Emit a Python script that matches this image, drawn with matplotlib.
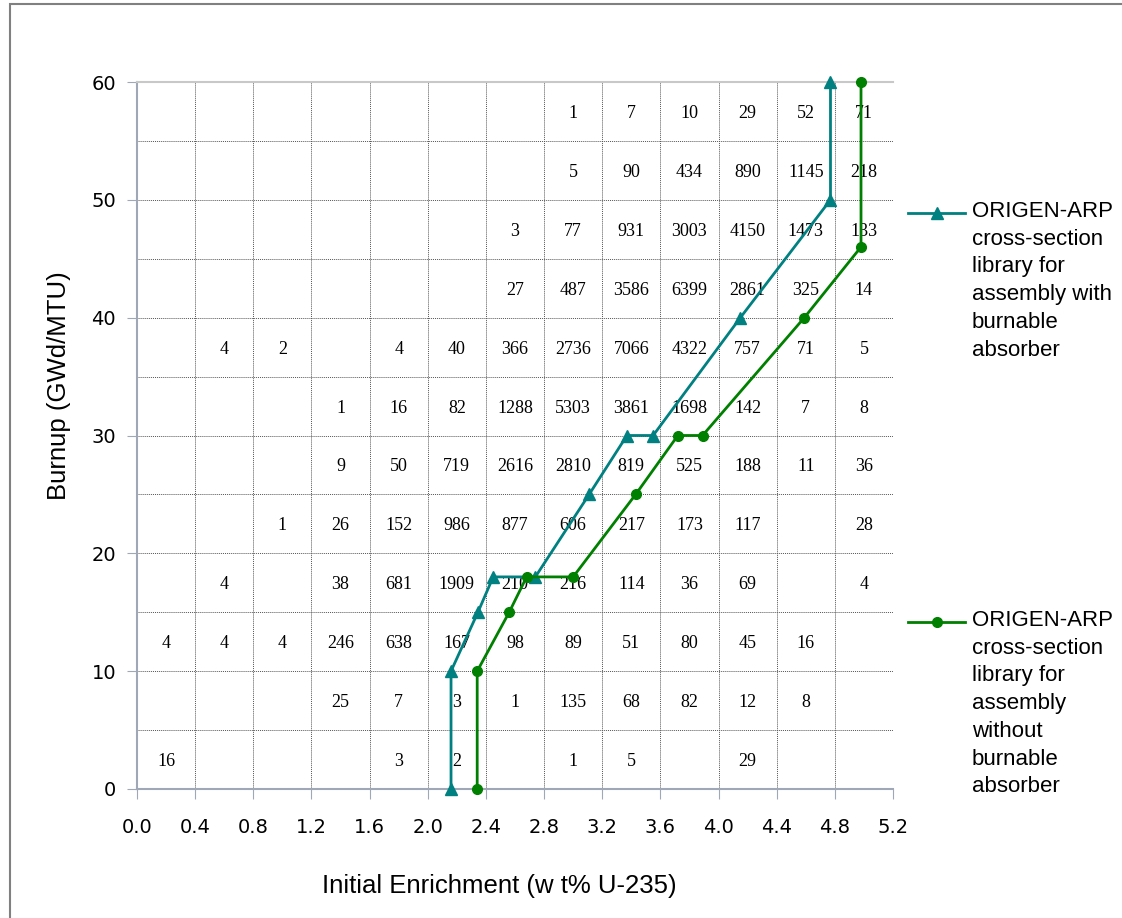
import matplotlib
matplotlib.use("Agg")
import matplotlib.pyplot as plt
from matplotlib.lines import Line2D
from matplotlib.patches import Rectangle

# cell centres of the count grid (enrichment bins of 0.4, burnup bins of 5)
enrich_centres = [0.2, 0.6, 1.0, 1.4, 1.8, 2.2, 2.6, 3.0, 3.4, 3.8, 4.2, 4.6, 5.0]
burnup_centres = [57.5, 52.5, 47.5, 42.5, 37.5, 32.5, 27.5, 22.5, 17.5, 12.5, 7.5, 2.5]

# assembly counts, rows from top (57.5) to bottom (2.5)
counts = [
    [None, None, None, None, None, None, None, 1, 7, 10, 29, 52, 71],
    [None, None, None, None, None, None, None, 5, 90, 434, 890, 1145, 218],
    [None, None, None, None, None, None, 3, 77, 931, 3003, 4150, 1473, 133],
    [None, None, None, None, None, None, 27, 487, 3586, 6399, 2861, 325, 14],
    [None, 4, 2, None, 4, 40, 366, 2736, 7066, 4322, 757, 71, 5],
    [None, None, None, 1, 16, 82, 1288, 5303, 3861, 1698, 142, 7, 8],
    [None, None, None, 9, 50, 719, 2616, 2810, 819, 525, 188, 11, 36],
    [None, None, 1, 26, 152, 986, 877, 606, 217, 173, 117, None, 28],
    [None, 4, None, 38, 681, 1909, 210, 216, 114, 36, 69, None, 4],
    [4, 4, 4, 246, 638, 167, 98, 89, 51, 80, 45, 16, None],
    [None, None, None, 25, 7, 3, 1, 135, 68, 82, 12, 8, None],
    [16, None, None, None, 3, 2, None, 1, 5, None, 29, None, None],
]

# ORIGEN-ARP library curves
ba_enrich = [2.16, 2.16, 2.345, 2.45, 2.74, 3.11, 3.37, 3.55, 4.15, 4.77, 4.77]
ba_burnup = [0, 10, 15, 18, 18, 25, 30, 30, 40, 50, 60]
noba_enrich = [2.34, 2.34, 2.56, 2.68, 3.0, 3.43, 3.72, 3.89, 4.59, 4.98, 4.98]
noba_burnup = [0, 10, 15, 18, 18, 25, 30, 30, 40, 46, 60]

ba_label = "ORIGEN-ARP\ncross-section\nlibrary for\nassembly with\nburnable\nabsorber"
noba_label = "ORIGEN-ARP\ncross-section\nlibrary for\nassembly\nwithout\nburnable\nabsorber"

teal = "#008080"
green = "#008000"

fig = plt.figure(figsize=(11.22, 9.18), dpi=100)
ax = fig.add_axes([137 / 1122, 1 - 789 / 918, 756 / 1122, 707 / 918])

# outer chart frame
fig.patches.append(Rectangle((10 / 1122, -0.1), 1.2, 1.1 - 4 / 918,
                             transform=fig.transFigure, fill=False,
                             edgecolor="#808080", linewidth=1.5))

ax.set_xlim(0, 5.2)
ax.set_ylim(0, 60)
ax.set_xticks([i * 0.4 for i in range(14)])
ax.set_xticklabels([f"{i * 0.4:.1f}" for i in range(14)])
ax.set_yticks(range(0, 61, 10))
ax.set_yticks(range(5, 60, 10), minor=True)
ax.tick_params(axis="both", which="major", direction="out", length=7,
               color="#a0a8b8", labelsize=14)
ax.tick_params(axis="y", which="minor", length=0)
ax.tick_params(axis="x", pad=14)
ax.tick_params(axis="y", pad=8)
for lbl in ax.get_xticklabels() + ax.get_yticklabels():
    lbl.set_fontfamily("DejaVu Sans")

ax.grid(True, which="both", linestyle=(0, (1, 1)), color="#555555", linewidth=0.7)
ax.set_axisbelow(True)
ax.spines["right"].set_visible(False)
ax.spines["top"].set_color("#c8c8c8")
ax.spines["left"].set_color("#a0a8b8")
ax.spines["bottom"].set_color("#a0a8b8")
for s in ("left", "bottom", "top"):
    ax.spines[s].set_linewidth(1.5)

for yc, row in zip(burnup_centres, counts):
    for xc, val in zip(enrich_centres, row):
        if val is not None:
            ax.text(xc, yc, str(val), ha="center", va="center_baseline",
                    fontsize=13, fontfamily="Liberation Serif", color="black")

ax.plot(ba_enrich, ba_burnup, color=teal, linewidth=2, marker="^",
        markersize=9, clip_on=False, zorder=5)
ax.plot(noba_enrich, noba_burnup, color=green, linewidth=2, marker="o",
        markersize=7, clip_on=False, zorder=5)

ax.set_xlabel("Initial Enrichment (w t% U-235)", fontsize=18.5,
              fontfamily="Liberation Sans")
ax.set_ylabel("Burnup (GWd/MTU)", fontsize=18.5, fontfamily="Liberation Sans")
ax.xaxis.set_label_coords(0.479, -0.12)
ax.yaxis.set_label_coords(-0.087, 0.57)

# legend drawn beside the plot
for label, color, marker, msize, ytop in [
        (ba_label, teal, "^", 9, 213), (noba_label, green, "o", 7, 622)]:
    yf = 1 - ytop / 918
    fig.add_artist(Line2D([908 / 1122, 965 / 1122], [yf, yf], color=color,
                          linewidth=2, transform=fig.transFigure))
    fig.add_artist(Line2D([936.5 / 1122], [yf], color=color, marker=marker,
                          markersize=msize, transform=fig.transFigure))
    fig.text(972 / 1122, yf + 12 / 918, label, ha="left", va="top",
             fontsize=16, fontfamily="Liberation Sans", linespacing=1.42)

fig.savefig("out.png", dpi=100)
